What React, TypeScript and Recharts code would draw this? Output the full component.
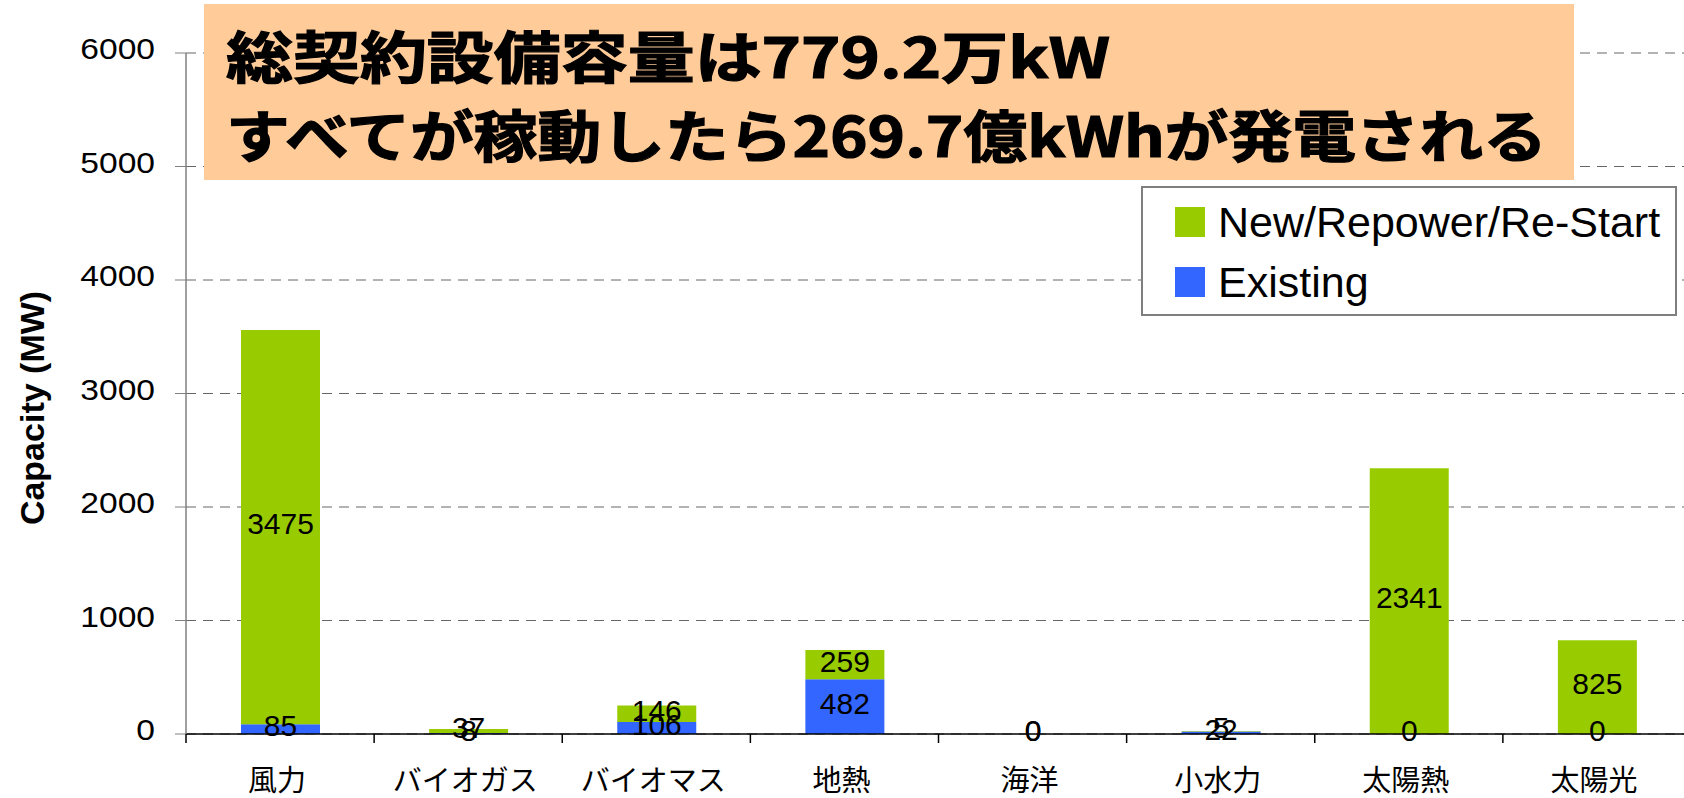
import { BarChart, Bar, XAxis, YAxis, CartesianGrid, Legend, LabelList } from 'recharts'

const categories = ['風力', 'バイオガス', 'バイオマス', '地熱', '海洋', '小水力', '太陽熱', '太陽光']
const existing = [85, 8, 106, 482, 0, 22, 0, 0]
const newRepower = [3475, 37, 146, 259, 0, 5, 2341, 825]
const yTicks = [0, 1000, 2000, 3000, 4000, 5000, 6000]

const titleLine1 = '総契約設備容量は779.2万kW'
const titleLine2 = 'すべてが稼動したら269.7億kWhが発電される'

const data = categories.map((name, i) => ({
  name,
  existing: existing[i],
  newRepower: newRepower[i]
}))

const CHART_W = 1691
const Y_AXIS_W = 186
const BAND = (CHART_W - Y_AXIS_W) / categories.length
const ARIAL = '"Liberation Sans", Arial, sans-serif'
const JP = '"Noto Sans CJK JP", sans-serif'

// a hair of height so that zero segments keep their "0" label
const zeroMin = (value: any) => (Number(value) === 0 ? 0.1 : 0)

const CategoryTick = (props: any) => {
  const { x, y, payload } = props
  return (
    <g>
      <line x1={x - BAND / 2} x2={x - BAND / 2} y1={y} y2={y + 9} stroke="#000" strokeWidth={1.5} />
      <text x={x - 3} y={y + 57} textAnchor="middle" fontSize={29} fontFamily={JP} fill="#000">
        {payload.value}
      </text>
    </g>
  )
}

const ValueTick = (props: any) => {
  const { x, y, payload } = props
  return (
    <g transform={`translate(${x - 20},${y - 4}) scale(1.12,1)`}>
      <text x={0} y={0} textAnchor="end" dominantBaseline="central" fontSize={30} fontFamily={ARIAL} fill="#000">
        {payload.value}
      </text>
    </g>
  )
}

const SegmentLabel = (props: any) => {
  const { viewBox, value } = props
  if (!viewBox || value == null) return null
  const cx = viewBox.x + viewBox.width / 2
  const cy = viewBox.y + viewBox.height / 2
  return (
    <text x={cx} y={cy} dy={7} textAnchor="middle" fontSize={30} fontFamily={ARIAL} fill="#000">
      {value}
    </text>
  )
}

const AxisTitle = () => (
  <text
    x={44}
    y={408}
    transform="rotate(-90 44 408)"
    textAnchor="middle"
    fontSize={34}
    fontWeight="bold"
    fontFamily={ARIAL}
    fill="#000"
  >
    Capacity (MW)
  </text>
)

const LegendBox = (props: any) => {
  const items = [...(props.payload || [])].reverse()
  return (
    <div
      style={{
        width: 536,
        height: 130,
        boxSizing: 'border-box',
        border: '2px solid #7f7f7f',
        background: '#fff',
        paddingTop: 4
      }}
    >
      {items.map((item: any) => (
        <div key={item.value} style={{ display: 'flex', alignItems: 'center', height: 60 }}>
          <span style={{ width: 30, height: 30, background: item.color, marginLeft: 32, marginRight: 13 }} />
          <span style={{ fontFamily: ARIAL, fontSize: 43, color: '#000', lineHeight: 1 }}>{item.value}</span>
        </div>
      ))}
    </div>
  )
}

export default function App() {
  return (
    <div style={{ position: 'absolute', left: 0, top: 0, width: 1684, height: 798, overflow: 'hidden', background: '#fff' }}>
      <BarChart width={CHART_W} height={798} data={data} margin={{ top: 53, right: 0, bottom: 0, left: 0 }}>
        <CartesianGrid vertical={false} stroke="#666" strokeDasharray="10 7" />
        <XAxis
          dataKey="name"
          height={64}
          tick={<CategoryTick />}
          tickLine={false}
          tickSize={0}
          tickMargin={0}
          axisLine={{ stroke: '#000', strokeWidth: 1.5 }}
          interval={0}
        />
        <YAxis
          width={Y_AXIS_W}
          domain={[0, 6000]}
          ticks={yTicks}
          tick={<ValueTick />}
          tickSize={11}
          tickMargin={0}
          tickLine={{ stroke: '#808080' }}
          axisLine={{ stroke: '#808080', strokeWidth: 1.5 }}
          label={<AxisTitle />}
        />
        <Legend
          layout="vertical"
          align="center"
          verticalAlign="middle"
          content={<LegendBox />}
          wrapperStyle={{ left: 1141, top: 186, width: 536, height: 130 }}
        />
        <Bar
          dataKey="existing"
          name="Existing"
          stackId="a"
          fill="#3366FF"
          barSize={79}
          minPointSize={zeroMin}
          isAnimationActive={false}
        >
          <LabelList dataKey="existing" content={SegmentLabel} />
        </Bar>
        <Bar
          dataKey="newRepower"
          name="New/Repower/Re-Start"
          stackId="a"
          fill="#99CC00"
          barSize={79}
          minPointSize={zeroMin}
          isAnimationActive={false}
        >
          <LabelList dataKey="newRepower" content={SegmentLabel} />
        </Bar>
      </BarChart>
      <svg width={1684} height={798} style={{ position: 'absolute', left: 0, top: 0, pointerEvents: 'none' }}>
        <rect x={204} y={4} width={1370} height={176} fill="#FFCC99" />
        <text
          x={226}
          y={78}
          textLength={884}
          lengthAdjust="spacingAndGlyphs"
          fontSize={56}
          fontWeight="bold"
          fontFamily={JP}
          fill="#000"
          stroke="#000"
          strokeWidth={1.2}
        >
          {titleLine1}
        </text>
        <text
          x={226}
          y={157}
          textLength={1321}
          lengthAdjust="spacingAndGlyphs"
          fontSize={56}
          fontWeight="bold"
          fontFamily={JP}
          fill="#000"
          stroke="#000"
          strokeWidth={1.2}
        >
          {titleLine2}
        </text>
      </svg>
    </div>
  )
}
